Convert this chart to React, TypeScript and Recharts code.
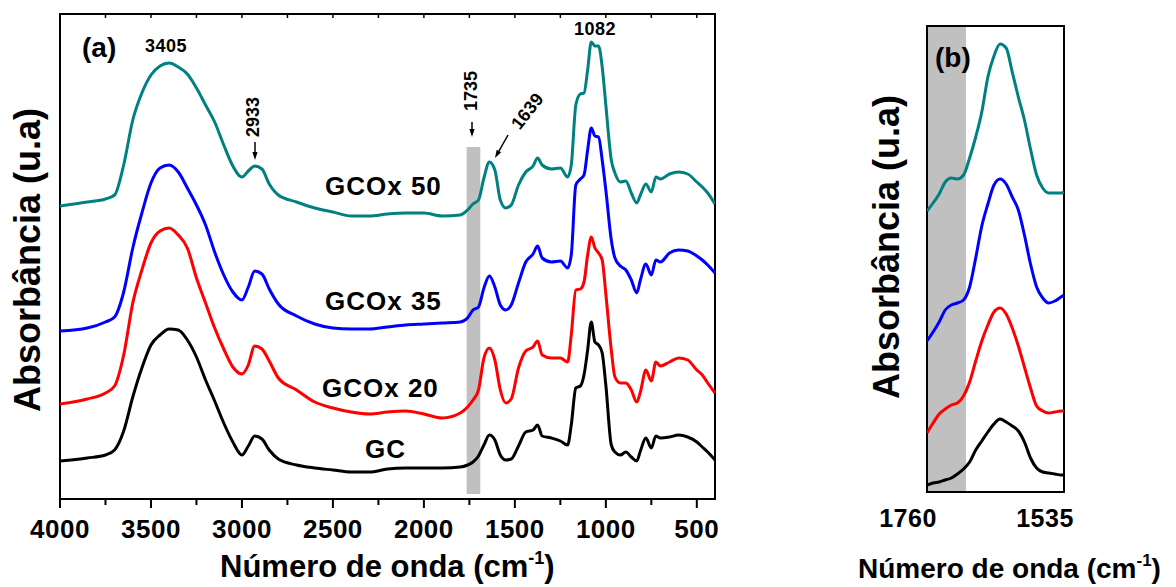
import React from 'react';
import { LineChart, Line, XAxis, YAxis, ReferenceArea, ReferenceLine } from 'recharts';

// panel (a): wavenumber grid (cm-1) and absorbance (arbitrary units, offset curves)
const waveA = [
  4000, 3850, 3750, 3700, 3650, 3600, 3550, 3500, 3450, 3400, 3350, 3300, 3250, 3200, 3150, 3100, 3050, 3000,
  2965, 2930, 2890, 2850, 2800, 2700, 2600, 2500, 2400, 2300, 2200, 2100, 2000, 1900, 1800, 1760, 1730, 1700,
  1670, 1640, 1610, 1580, 1550, 1520, 1480, 1440, 1400, 1375, 1350, 1300, 1250, 1210, 1190, 1165, 1140, 1120,
  1100, 1080, 1060, 1040, 1020, 1000, 970, 950, 920, 890, 860, 830, 810, 780, 750, 725, 700, 650, 600, 550,
  500, 470, 440, 400,
];
const gcox50A = [
  293, 297, 300, 304, 334, 379, 406, 424, 433, 436, 432, 425, 411, 394, 377, 354, 333, 322,
  328, 333, 330, 315, 304, 297, 291, 287, 283, 283, 285, 286, 286, 283, 284, 289, 295, 299,
  321, 337, 329, 299, 291, 294, 314, 327, 333, 341, 334, 330, 331, 322, 334, 394, 405, 406,
  429, 457, 453, 453, 432, 394, 339, 326, 317, 318, 306, 296, 304, 315, 307, 322, 320, 325, 327, 325,
  317, 312, 306, 295,
];
const gcox35A = [
  168, 171, 177, 182, 207, 251, 286, 316, 331, 334, 327, 311, 294, 274, 247, 224, 207, 199,
  212, 228, 225, 210, 195, 183, 175, 171, 170, 170, 172, 174, 175, 176, 177, 181, 189, 192,
  211, 223, 212, 194, 189, 194, 216, 237, 245, 253, 241, 237, 238, 231, 244, 314, 320, 324,
  349, 371, 363, 362, 339, 309, 259, 241, 233, 229, 219, 206, 219, 235, 224, 239, 237, 246, 249, 248,
  243, 239, 234, 226,
];
const gcox20A = [
  95, 100, 106, 113, 144, 196, 229, 256, 268, 271, 264, 251, 221, 196, 171, 150, 132, 125,
  134, 153, 150, 138, 121, 109, 97, 91, 87, 85, 87, 88, 85, 81, 86, 92, 99, 109,
  141, 151, 139, 109, 96, 100, 131, 148, 152, 158, 144, 141, 141, 137, 164, 209, 210, 217,
  244, 262, 251, 246, 239, 205, 149, 122, 116, 116, 109, 97, 107, 129, 118, 137, 133, 137, 141, 139,
  129, 124, 116, 106,
];
const gcA = [
  38, 41, 44, 49, 68, 102, 131, 154, 164, 170, 169, 159, 142, 119, 98, 76, 57, 44,
  53, 63, 60, 49, 40, 34, 31, 29, 27, 27, 30, 31, 31, 31, 32, 34, 37, 43,
  54, 64, 59, 44, 39, 40, 53, 67, 69, 74, 63, 61, 58, 54, 74, 111, 113, 124,
  149, 177, 157, 154, 146, 114, 54, 47, 44, 47, 42, 38, 48, 61, 51, 63, 61, 62, 64, 62,
  57, 52, 47, 39,
];

// panel (b): zoom on the 1760-1535 region
const waveB = [
  1760, 1750, 1740, 1730, 1720, 1710, 1700, 1690, 1680, 1670, 1660, 1650,
  1640, 1630, 1620, 1610, 1600, 1590, 1580, 1570, 1560, 1550, 1540, 1535,
];
const gcox50B = [281, 289, 298, 310, 314, 313, 317, 334, 355, 380, 415, 436, 448, 444, 420, 395, 372, 343, 317, 304, 299, 299, 299, 300];
const gcox35B = [151, 160, 170, 182, 187, 189, 192, 205, 234, 266, 288, 307, 313, 308, 295, 282, 257, 228, 205, 194, 189, 191, 195, 197];
const gcox20B = [59, 69, 78, 83, 87, 89, 96, 110, 131, 151, 167, 180, 184, 178, 164, 146, 125, 104, 86, 81, 79, 80, 81, 81];
const gcB = [7, 9, 10, 12, 14, 18, 23, 30, 42, 51, 60, 68, 73, 70, 66, 61, 50, 34, 24, 20, 19, 18, 17, 17];

const majorTicksA = [4000, 3500, 3000, 2500, 2000, 1500, 1000, 500];
const minorTicksA = [3750, 3250, 2750, 2250, 1750, 1250, 750];
const ticksB = [1760, 1535];

const series = [
  { key: 'gcox50', color: '#008080' },
  { key: 'gcox35', color: '#0000FF' },
  { key: 'gcox20', color: '#FF0000' },
  { key: 'gc', color: '#000000' },
];

const rowsA = waveA.map((w, i) => ({ w, gcox50: gcox50A[i], gcox35: gcox35A[i], gcox20: gcox20A[i], gc: gcA[i] }));
const rowsB = waveB.map((w, i) => ({ w, gcox50: gcox50B[i], gcox35: gcox35B[i], gcox20: gcox20B[i], gc: gcB[i] }));

const allTicksA = [...majorTicksA, ...minorTicksA].sort((a, b) => b - a);

const FONT = '"Liberation Sans", Arial, Helvetica, sans-serif';
const axisStyle = { stroke: '#000', strokeWidth: 2 };

const TickA = (props: any) => {
  const { x, y, payload } = props;
  const major = majorTicksA.includes(payload.value);
  return (
    <g>
      <line x1={x} y1={y} x2={x} y2={y + (major ? 9 : 6)} stroke="#000" strokeWidth={2} />
      {major && (
        <text x={x} y={y + 39} textAnchor="middle" fontSize={26} fontWeight="bold" fontFamily={FONT} fill="#000" letterSpacing={0.5}>
          {payload.value}
        </text>
      )}
    </g>
  );
};

const TickB = (props: any) => {
  const { x, y, payload } = props;
  return (
    <text x={x - 19} y={y + 35} textAnchor="middle" fontSize={25} fontWeight="bold" fontFamily={FONT} fill="#000" letterSpacing={0.5}>
      {payload.value}
    </text>
  );
};

const Arrow = ({ x1, y1, x2, y2 }: { x1: number; y1: number; x2: number; y2: number }) => {
  const len = Math.hypot(x2 - x1, y2 - y1);
  const ux = (x2 - x1) / len;
  const uy = (y2 - y1) / len;
  const bx = x2 - ux * 8;
  const by = y2 - uy * 8;
  const px = -uy * 2.6;
  const py = ux * 2.6;
  return (
    <g>
      <line x1={x1} y1={y1} x2={bx} y2={by} stroke="#000" strokeWidth={1.5} />
      <polygon points={`${bx + px},${by + py} ${bx - px},${by - py} ${x2},${y2}`} fill="#000" />
    </g>
  );
};

export default function App() {
  return (
    <div style={{ position: 'absolute', left: 0, top: 0, width: 1176, height: 587, background: '#fff', fontFamily: FONT }}>
      <div style={{ position: 'absolute', left: 0, top: 0 }}>
        <LineChart width={730} height={587} data={rowsA} margin={{ top: 14, right: 15, left: 60, bottom: 0 }}>
          <XAxis
            dataKey="w"
            type="number"
            domain={[400, 4000]}
            reversed
            allowDataOverflow
            ticks={allTicksA}
            interval={0}
            tickSize={0}
            tickMargin={0}
            tickLine={false}
            tick={TickA}
            height={88}
            axisLine={axisStyle}
          />
          <YAxis type="number" domain={[0, 485]} allowDataOverflow width={0} tick={false} tickLine={false} axisLine={axisStyle} />
          <ReferenceArea x1={1765} x2={1690} y1={5} y2={352} fill="#C0C0C0" fillOpacity={1} stroke="none" />
          {series.map((s) => (
            <Line
              key={s.key}
              dataKey={s.key}
              type="monotone"
              stroke={s.color}
              strokeWidth={3}
              dot={false}
              activeDot={false}
              isAnimationActive={false}
            />
          ))}
          <ReferenceArea x1={4000} x2={400} y1={0} y2={485} fill="none" fillOpacity={0} stroke="#000" strokeWidth={2} />
          {allTicksA.map((t) => (
            <ReferenceLine key={`top-${t}`} segment={[{ x: t, y: 485 }, { x: t, y: 481 }]} stroke="#000" strokeWidth={1.5} />
          ))}
        </LineChart>
      </div>

      <div style={{ position: 'absolute', left: 880, top: 0 }}>
        <LineChart width={200} height={587} data={rowsB} margin={{ top: 26, right: 16, left: 47, bottom: 0 }}>
          <XAxis
            dataKey="w"
            type="number"
            domain={[1535, 1760]}
            reversed
            allowDataOverflow
            ticks={ticksB}
            interval={0}
            tickSize={0}
            tickMargin={0}
            tickLine={false}
            tick={TickB}
            height={95}
            axisLine={axisStyle}
          />
          <YAxis type="number" domain={[0, 466]} allowDataOverflow width={0} tick={false} tickLine={false} axisLine={axisStyle} />
          <ReferenceArea x1={1760} x2={1696} y1={0} y2={466} fill="#C0C0C0" fillOpacity={1} stroke="none" />
          {series.map((s) => (
            <Line
              key={s.key}
              dataKey={s.key}
              type="monotone"
              stroke={s.color}
              strokeWidth={3}
              dot={false}
              activeDot={false}
              isAnimationActive={false}
            />
          ))}
          <ReferenceArea x1={1760} x2={1535} y1={0} y2={466} fill="none" fillOpacity={0} stroke="#000" strokeWidth={2} />
        </LineChart>
      </div>

      <svg width={1176} height={587} style={{ position: 'absolute', left: 0, top: 0, pointerEvents: 'none' }} fontFamily={FONT} fontWeight="bold" fill="#000">
        {/* panel (a) annotations */}
        <text x={82} y={57} fontSize={28}>(a)</text>
        <text x={166} y={52} fontSize={18} textAnchor="middle" letterSpacing={0.5}>3405</text>
        <text x={259} y={117} fontSize={18} textAnchor="middle" transform="rotate(-90 259 117)">2933</text>
        <Arrow x1={255} y1={142} x2={255} y2={160} />
        <text x={477} y={91} fontSize={18} textAnchor="middle" transform="rotate(-90 477 91)">1735</text>
        <Arrow x1={472} y1={122} x2={472} y2={137} />
        <text x={532} y={115} fontSize={18} textAnchor="middle" transform="rotate(-52 532 115)">1639</text>
        <Arrow x1={508} y1={135} x2={495} y2={158} />
        <text x={595} y={35} fontSize={18} textAnchor="middle" letterSpacing={0.5}>1082</text>
        <text x={325} y={195} fontSize={26} letterSpacing={1}>GCOx 50</text>
        <text x={325} y={310} fontSize={26} letterSpacing={1}>GCOx 35</text>
        <text x={322} y={397} fontSize={26} letterSpacing={1}>GCOx 20</text>
        <text x={365} y={458} fontSize={26} letterSpacing={1}>GC</text>
        <text x={40} y={260} fontSize={36} textAnchor="middle" transform="rotate(-90 40 260)">Absorbância (u.a)</text>
        <text x={220} y={577} fontSize={31}>
          Número de onda (cm<tspan fontSize={18} dy={-13}>-1</tspan><tspan dy={13}>)</tspan>
        </text>

        {/* panel (b) annotations */}
        <text x={935} y={67} fontSize={28}>(b)</text>
        <text x={899} y={247} fontSize={36} textAnchor="middle" transform="rotate(-90 899 247)">Absorbância (u.a)</text>
        <text x={858} y={578} fontSize={28}>
          Número de onda (cm<tspan fontSize={17} dy={-12}>-1</tspan><tspan dy={12}>)</tspan>
        </text>
      </svg>
    </div>
  );
}
